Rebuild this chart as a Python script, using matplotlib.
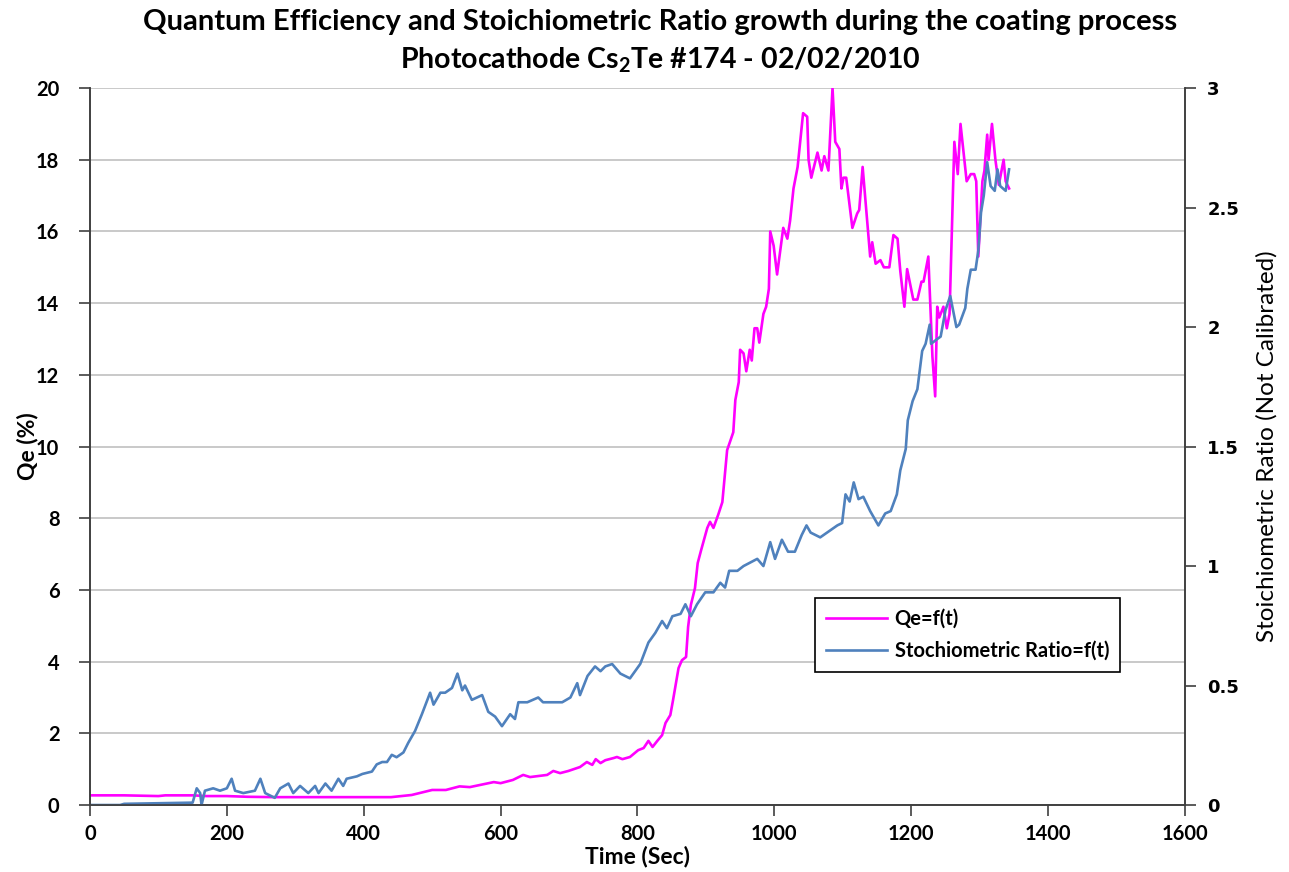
import matplotlib
matplotlib.use('Agg')
import matplotlib.pyplot as plt
from matplotlib.ticker import MultipleLocator

# Qe (%) vs time (s)
qe_t = [0, 50, 100, 110, 150, 170, 200, 230, 270, 300, 350, 400, 440, 470, 500, 520, 540, 555,
        570, 590, 600, 618, 633, 643, 668, 677, 687, 699, 716, 726, 734, 739, 746, 753, 765, 770,
        778, 789, 801, 809, 816, 822, 829, 836, 841, 848, 852, 860, 865, 871, 874, 878, 884, 888,
        893, 902, 906, 911, 918, 924, 931, 940, 943, 948, 950, 955, 959, 964, 967, 971, 975, 978,
        984, 988, 992, 994, 999, 1004, 1013, 1019, 1023, 1028, 1034, 1042, 1048, 1050, 1054, 1063,
        1069, 1073, 1079, 1085, 1089, 1095, 1098, 1101, 1105, 1114, 1121, 1124, 1129, 1140, 1143,
        1148, 1155, 1160, 1168, 1174, 1180, 1184, 1190, 1194, 1203, 1209, 1215, 1218, 1225, 1231,
        1235, 1238, 1241, 1247, 1252, 1256, 1263, 1268, 1272, 1281, 1287, 1292, 1295, 1298, 1304,
        1307, 1311, 1313, 1318, 1323, 1328, 1335, 1338, 1343]
qe_v = [0.27, 0.27, 0.25, 0.27, 0.27, 0.25, 0.25, 0.23, 0.22, 0.22, 0.22, 0.22, 0.22, 0.28, 0.42,
        0.42, 0.52, 0.50, 0.56, 0.64, 0.61, 0.70, 0.84, 0.78, 0.84, 0.95, 0.89, 0.95, 1.06, 1.20,
        1.12, 1.28, 1.17, 1.25, 1.31, 1.34, 1.28, 1.34, 1.53, 1.59, 1.79, 1.62, 1.79, 1.95, 2.29,
        2.51, 2.93, 3.82, 4.04, 4.13, 4.97, 5.58, 6.05, 6.75, 7.11, 7.73, 7.9, 7.73, 8.1, 8.45,
        9.9, 10.4, 11.3, 11.8, 12.7, 12.6, 12.1, 12.7, 12.4, 13.3, 13.3, 12.9, 13.7, 13.9, 14.4,
        16.0, 15.6, 14.8, 16.1, 15.8, 16.3, 17.2, 17.8, 19.3, 19.2, 18.0, 17.5, 18.2, 17.7, 18.1,
        17.7, 20.0, 18.5, 18.3, 17.2, 17.5, 17.5, 16.1, 16.5, 16.6, 17.8, 15.3, 15.7, 15.1, 15.2,
        15.0, 15.0, 15.9, 15.8, 14.9, 13.9, 14.95, 14.1, 14.1, 14.6, 14.6, 15.3, 12.5, 11.4, 13.9,
        13.6, 13.9, 13.3, 13.7, 18.5, 17.6, 19.0, 17.4, 17.6, 17.6, 17.4, 15.3, 17.4, 17.7, 18.7,
        18.0, 19.0, 18.0, 17.3, 18.0, 17.4, 17.2]

# stoichiometric ratio vs time (s)
sr_t = [0, 44, 50, 150, 156, 161, 163, 168, 180, 190, 200, 207, 212, 224, 241, 249, 256, 270,
        278, 290, 297, 307, 319, 329, 334, 344, 353, 363, 370, 375, 390, 398, 412, 419, 427, 434,
        441, 448, 458, 465, 475, 485, 497, 502, 512, 519, 529, 537, 544, 548, 558, 573, 582, 592,
        602, 614, 621, 626, 639, 655, 662, 680, 690, 702, 712, 716, 727, 738, 746, 753, 763, 775,
        789, 804, 816, 826, 836, 843, 851, 863, 870, 878, 887, 899, 911, 921, 928, 934, 946, 955,
        975, 984, 994, 1001, 1011, 1020, 1030, 1040, 1047, 1053, 1067, 1077, 1092, 1099, 1104,
        1110, 1116, 1123, 1130, 1140, 1152, 1162, 1170, 1179, 1184, 1192, 1195, 1202, 1209, 1216,
        1221, 1227, 1229, 1238, 1243, 1250, 1257, 1266, 1270, 1279, 1282, 1287, 1294, 1298, 1302,
        1306, 1311, 1316, 1322, 1326, 1330, 1338, 1343]
sr_v = [0.0, 0.0, 0.005, 0.01, 0.07, 0.05, 0.0, 0.06, 0.07, 0.06, 0.07, 0.11, 0.06, 0.05, 0.06,
        0.11, 0.05, 0.03, 0.07, 0.09, 0.05, 0.08, 0.05, 0.08, 0.05, 0.09, 0.06, 0.11, 0.08, 0.11,
        0.12, 0.13, 0.14, 0.17, 0.18, 0.18, 0.21, 0.20, 0.22, 0.26, 0.31, 0.38, 0.47, 0.42, 0.47,
        0.47, 0.49, 0.55, 0.48, 0.50, 0.44, 0.46, 0.39, 0.37, 0.33, 0.38, 0.36, 0.43, 0.43, 0.45,
        0.43, 0.43, 0.43, 0.45, 0.51, 0.46, 0.54, 0.58, 0.56, 0.58, 0.59, 0.55, 0.53, 0.59, 0.68,
        0.72, 0.77, 0.74, 0.79, 0.80, 0.84, 0.79, 0.84, 0.89, 0.89, 0.93, 0.91, 0.98, 0.98, 1.00,
        1.03, 1.00, 1.10, 1.03, 1.11, 1.06, 1.06, 1.13, 1.17, 1.14, 1.12, 1.14, 1.17, 1.18, 1.30,
        1.27, 1.35, 1.28, 1.29, 1.23, 1.17, 1.22, 1.23, 1.30, 1.40, 1.49, 1.61, 1.69, 1.74, 1.90,
        1.93, 2.01, 1.93, 1.95, 1.96, 2.07, 2.13, 2.00, 2.01, 2.08, 2.16, 2.24, 2.24, 2.32, 2.48,
        2.55, 2.69, 2.59, 2.57, 2.66, 2.59, 2.57, 2.66]

sr_ticks = [0, 0.5, 1, 1.5, 2, 2.5, 3]
sr_ticklabels = ['0', '0.5', '1', '1.5', '2', '2.5', '3']

FONT = 'Lato'
MAG = '#ff00ff'
BLUE = '#4f81bd'

fig = plt.figure(figsize=(12.89, 8.72), dpi=100)
ax = fig.add_axes([0.0698, 0.0768, 0.8495, 0.8222])
ax2 = ax.twinx()

l1, = ax.plot(qe_t, qe_v, color=MAG, lw=1.9, label='Qe=f(t)')
l2, = ax2.plot(sr_t, sr_v, color=BLUE, lw=1.9, label='Stochiometric Ratio=f(t)')

ax.set_xlim(0, 1600)
ax.set_ylim(0, 20)
ax2.set_ylim(0, 3)
ax.xaxis.set_major_locator(MultipleLocator(200))
ax.yaxis.set_major_locator(MultipleLocator(2))
ax2.set_yticks(sr_ticks)
ax2.set_yticklabels(sr_ticklabels)

ax.grid(axis='y', color='#c0c0c0', lw=1.2)
ax.set_axisbelow(True)

for a in (ax, ax2):
    a.spines['top'].set_visible(False)
    for s in ('left', 'right', 'bottom'):
        a.spines[s].set_color('#404040')
        a.spines[s].set_linewidth(1.2)

ax.tick_params(axis='both', direction='out', length=8, width=1.2, color='#404040')
ax.tick_params(axis='x', pad=6)
ax.tick_params(axis='y', pad=14)
ax2.tick_params(axis='y', direction='out', length=8, width=1.2, color='#404040', pad=8)

for lab in ax.get_xticklabels() + ax.get_yticklabels():
    lab.set_fontfamily(FONT)
    lab.set_fontweight('bold')
    lab.set_fontsize(14.5)
for lab in ax2.get_yticklabels():
    lab.set_fontfamily('DejaVu Sans')
    lab.set_fontweight('bold')
    lab.set_fontsize(13)

ax.set_xlabel('Time (Sec)', fontfamily=FONT, fontweight='bold', fontsize=16.5)
ax.xaxis.set_label_coords(0.5, -0.056)
ax.set_ylabel('Qe (%)', fontfamily=FONT, fontweight='bold', fontsize=16.5)
ax.yaxis.set_label_coords(-0.0475, 0.5)
ax2.set_ylabel('Stoichiometric Ratio (Not Calibrated)', fontfamily=FONT, fontsize=17.5)
ax2.yaxis.set_label_coords(1.065, 0.5)

fig.text(0.512, 0.975, 'Quantum Efficiency and Stoichiometric Ratio growth during the coating process',
         ha='center', va='center', fontfamily=FONT, fontweight='bold', fontsize=21)
fig.text(0.512, 0.931, r'Photocathode Cs$_\mathregular{2}$Te #174 - 02/02/2010',
         ha='center', va='center', fontfamily=FONT, fontweight='bold', fontsize=20.5)

leg = ax2.legend(handles=[l1, l2], loc='upper left', bbox_to_anchor=(0.653, 0.303),
                 prop={'family': FONT, 'weight': 'bold', 'size': 14.5},
                 frameon=True, fancybox=False, edgecolor='black', framealpha=1,
                 handlelength=3.0, borderpad=0.55, labelspacing=0.6, handletextpad=0.4)
leg.get_frame().set_linewidth(1.2)

fig.savefig('out.png', dpi=100)
